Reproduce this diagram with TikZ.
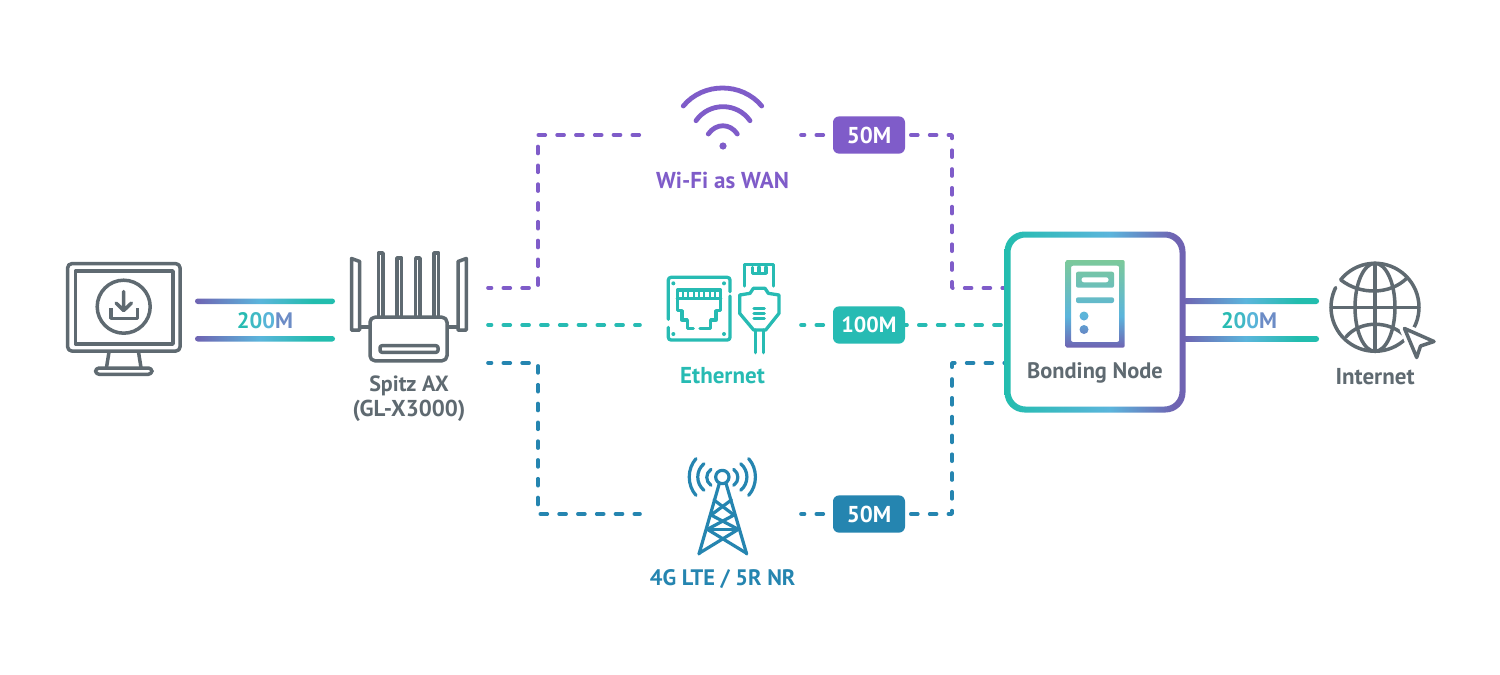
\documentclass[tikz,border=0pt]{standalone}
\usepackage{fontspec}
\setmainfont{PT Sans}
\definecolor{gry}{HTML}{5F6A71}
\definecolor{pur}{HTML}{7F5CC9}
\definecolor{tea}{HTML}{27BBB3}
\definecolor{blu}{HTML}{2585B0}
\definecolor{gP}{HTML}{6F63B2}
\definecolor{gB}{HTML}{5BB5DC}
\definecolor{gT}{HTML}{22BDAE}
\definecolor{gG}{HTML}{7CC99A}
\pgfdeclarehorizontalshading{wiregrad}{100bp}{color(0bp)=(gP);color(25bp)=(gP);color(48bp)=(gB);color(67bp)=(gT);color(75bp)=(gT);color(100bp)=(gT)}
\pgfdeclarehorizontalshading{ringgrad}{100bp}{color(0bp)=(gT);color(25bp)=(gT);color(54bp)=(gB);color(72bp)=(gP);color(75bp)=(gP);color(100bp)=(gP)}
\pgfdeclareverticalshading{srvgrad}{100bp}{color(0bp)=(gP);color(25bp)=(gP);color(43bp)=(gB);color(75bp)=(gG);color(100bp)=(gG)}
\tikzset{
 x=0.5pt,y=-0.5pt,
 lbl/.style={font=\bfseries\fontsize{11.5}{14}\selectfont,inner sep=0pt,align=center},
 badge/.style={minimum width=36pt,minimum height=18.6pt,inner sep=0pt,rounded corners=3pt,text=white,font=\bfseries\fontsize{11.5}{14}\selectfont},
 route/.style={line width=1.8pt,line cap=round,line join=round,dash pattern=on 3.5pt off 5.9pt,dash phase=1.75pt},
 ico/.style={gry,line width=1.75pt,line join=round,line cap=round},
 eth/.style={tea,line width=1.65pt,line join=round,line cap=round},
 twr/.style={blu,line width=1.6pt,line join=round,line cap=round},
}
\newcommand{\gradnum}{{\color[HTML]{28BBB2}2}{\color[HTML]{3FB9C4}0}{\color[HTML]{58B4D8}0}{\color[HTML]{6C8CC6}M}}
\begin{document}
\begin{tikzpicture}
\useasboundingbox (0,0) rectangle (1500,675);
\fill[white] (0,0) rectangle (1500,675);
% anchor coordinates
\coordinate (rP) at (488,288); \coordinate (rT) at (488,325); \coordinate (rB) at (488,363);
\coordinate (wifiL) at (640,135); \coordinate (wifiR) at (801,135);
\coordinate (ethL) at (640,325); \coordinate (ethR) at (801,325);
\coordinate (lteL) at (640,514); \coordinate (lteR) at (801,514);
\coordinate (nP) at (1005,288); \coordinate (nT) at (1005,325); \coordinate (nB) at (1005,363);
% routes, drawn beneath the badges
\path (869,135) coordinate (b1c) (869,325) coordinate (b2c) (869,514) coordinate (b3c);
\draw[route,pur] (rP) -- ++(50,0) |- (wifiL);
\draw[route,pur] (wifiR) -- (b1c);
\draw[route,pur,dash phase=6.5pt] (905,135) -- ++(47,0) |- (nP);
\draw[route,tea] (rT) -- (ethL);
\draw[route,tea] (ethR) -- (b2c);
\draw[route,tea,dash phase=2.5pt] (905,325) -- (nT);
\draw[route,blu] (rB) -- ++(50,0) |- (lteL);
\draw[route,blu] (lteR) -- (b3c);
\draw[route,blu,dash phase=6.5pt] (905,514) -- ++(47,0) |- (nB);
\node[badge,fill=pur] (b1) at (b1c) {50M};
\node[badge,fill=tea] (b2) at (b2c) {\fontsize{11}{14}\selectfont 100M};
\node[badge,fill=blu] (b3) at (b3c) {50M};
% left wires
\coordinate (lw1a) at (195,298.5); \coordinate (lw1b) at (335,304);
\coordinate (lw2a) at (195,336); \coordinate (lw2b) at (335,341.5);
\shade[shading=wiregrad,rounded corners=1.37pt] (lw1a) rectangle (lw1b);
\shade[shading=wiregrad,rounded corners=1.37pt] (lw2a) rectangle (lw2b);
\node[lbl] (sp1) at (265,320.5) {\fontsize{11.2}{14}\selectfont\gradnum};
% right wires
\coordinate (rw1a) at (1183,298.2); \coordinate (rw1b) at (1319,304);
\coordinate (rw2a) at (1183,336); \coordinate (rw2b) at (1319,341.8);
\shade[shading=wiregrad,rounded corners=1.37pt] (rw1a) rectangle (rw1b);
\shade[shading=wiregrad,rounded corners=1.37pt] (rw2a) rectangle (rw2b);
\node[lbl] (sp2) at (1249,320.5) {\fontsize{11.2}{14}\selectfont\gradnum};
% bonding node
\shade[shading=ringgrad,even odd rule]
  [rounded corners=10pt] (1004.5,231.5) rectangle (1185.5,412.5)
  [rounded corners=7.5pt] (1010.5,237.5) rectangle (1179.5,406.5);
\shade[shading=srvgrad,even odd rule,rounded corners=1pt]
  (1065.5,260) rectangle (1124.7,347.7)
  (1071,265.7) rectangle (1119.2,342)
  (1076,271.7) rectangle (1114,287.7)
  (1081.5,277.3) rectangle (1108.5,282.3)
  (1076,297.3) rectangle (1114,303)
  (1084,316) circle[radius=4.5]
  (1084,329.5) circle[radius=4.5];
\node[lbl,gry] (bn) at (1095,372.5) {\fontsize{11.2}{14}\selectfont Bonding Node};
% monitor
\begin{scope}[ico]
\draw[rounded corners=2pt] (67.7,263.7) rectangle (180,351);
\draw (75.5,271) rectangle (173,344);
\draw (123.7,306.7) circle[radius=26.5];
\draw (109,352) -- (106.5,367.5) (138.5,352) -- (141,367.5);
\draw[rounded corners=1.8pt] (95.5,368) rectangle (152,374.3);
\draw (123.7,291.5) -- (123.7,310) (116,303) -- (123.7,310.5) -- (131.5,303);
\draw[line cap=butt] (111,308.3) -- (111,318.3) -- (137.3,318.3) -- (137.3,308.3);
\end{scope}
% router
\begin{scope}[ico]
\draw (361,327) -- (369,327) (448,327) -- (457,327);
\draw (351.5,258.5) -- (359.7,261.5) -- (359.7,330) -- (351.5,330) -- cycle;
\draw (466.3,258.5) -- (458,261.5) -- (458,330) -- (466.3,330) -- cycle;
\draw (378.5,316) -- (378.5,253) -- (383,253) -- (383,316);
\draw (397,316) -- (397,258) -- (401.5,258) -- (401.5,316);
\draw (415.7,316) -- (415.7,258) -- (420,258) -- (420,316);
\draw (434,316) -- (434,253) -- (438.7,253) -- (438.7,316);
\node[draw=gry,line width=1.75pt,fill=white,rounded corners=2.5pt,minimum width=38.5pt,minimum height=21.8pt,inner sep=0pt] (router) at (408.5,339) {};
\draw[rounded corners=1pt] (380,345.7) rectangle (438,352.3);
\end{scope}
\node[lbl,gry] (rl1) at (409,386) {\fontsize{11}{12}\selectfont Spitz AX};
\node[lbl,gry] (rl2) at (409,411) {(GL-X3000)};
% wifi
\begin{scope}[pur,line width=2.4pt,line cap=round]
\draw (683.3,106) .. controls (703,82) and (742,82) .. (761.7,106);
\draw (696,120.7) .. controls (709,102) and (737,102) .. (750,120.7);
\draw (708.3,134) .. controls (716,123) and (730,123) .. (737.3,134);
\fill (723,146) circle[radius=3.6];
\end{scope}
\node[lbl,pur] (wl) at (722.5,180) {Wi-Fi as WAN};
% ethernet: zoom coordinates x=640+u/3, y=250+v/3
\begin{scope}[eth,shift={(640,250)},x=0.16667pt,y=-0.16667pt]
\draw (85,208) -- (85,90) arc[start angle=180,end angle=270,radius=8] -- (262,82) arc[start angle=270,end angle=360,radius=8] -- (270,125);
\draw (270,138) -- (270,262) arc[start angle=0,end angle=90,radius=8] -- (93,270) arc[start angle=90,end angle=180,radius=8] -- (85,232);
\fill (100,100) circle[radius=6] (252,100) circle[radius=6] (100,252) circle[radius=6] (252,252) circle[radius=6];
\draw (160,236) -- (142,236) -- (142,210) -- (126,210) -- (126,182) -- (112,182) -- (112,120) -- (242,120) -- (242,182) -- (228,182) -- (228,210) -- (212,210) -- (212,236) -- (180,236);
\draw (112,146) -- (242,146);
\foreach \u in {128,145,161,177,193,210,226} \draw[line width=1pt] (\u,124) -- (\u,142);
\draw (314,108) -- (314,44) -- (400,44) -- (400,108);
\draw (337,52) -- (337,70) -- (378,70) -- (378,52) (357,52) -- (357,70);
\draw (299,135) -- (330,130) -- (340,115) -- (375,115) -- (385,130) -- (417,135) -- (417,190) -- (377,240) -- (341,240) -- (299,190) -- cycle;
\draw (342,176) -- (373,176) (342,191) -- (373,191) (342,206) -- (373,206);
\draw (347,240) -- (347,308) (371,240) -- (371,308);
\end{scope}
\node[lbl,tea] (el) at (722.5,376) {Ethernet};
% tower: x=630+u/3, y=450+v/3
\begin{scope}[twr,shift={(630,450)},x=0.16667pt,y=-0.16667pt]
\draw (277,81) circle[radius=20];
\draw (268,100) -- (207,312) (288,100) -- (350,312);
\draw (252,150) -- (312,195) -- (232,238) -- (350,310);
\draw (304,150) -- (243,195) -- (325,238) -- (207,310);
\draw (232,238) -- (325,238);
\draw (243,58) .. controls (226,70) and (226,94) .. (243,106);
\draw (222,41) .. controls (197,62) and (197,100) .. (222,121);
\draw (198,26) .. controls (171,56) and (171,106) .. (198,136);
\draw (311,58) .. controls (328,70) and (328,94) .. (311,106);
\draw (332,41) .. controls (357,62) and (357,100) .. (332,121);
\draw (356,26) .. controls (383,56) and (383,106) .. (356,136);
\end{scope}
\node[lbl,blu] (ll) at (722.7,579) {\fontsize{11.2}{14}\selectfont 4G LTE / 5R NR};
% globe
\begin{scope}[ico]
\draw (1340.7,279.7) arc[start angle=218.8,end angle=566.6,radius=44];
\draw (1375,263.3) -- (1375,351.3) (1331,307.3) -- (1419,307.3);
\draw (1375,307.3) ellipse[x radius=20,y radius=44];
\draw (1341,280) .. controls (1360,295) and (1390,295) .. (1407,278);
\draw (1346,337) .. controls (1360,320) and (1390,320) .. (1406,337);
\draw[fill=white,draw=white,line width=5pt] (1404.5,328.5) -- (1434,341.5) -- (1420.5,346) -- (1416.7,357.5) -- cycle;
\draw[fill=white] (1404.5,328.5) -- (1434,341.5) -- (1420.5,346) -- (1416.7,357.5) -- cycle;
\end{scope}
\node[lbl,gry] (il) at (1375,376.5) {Internet};
\end{tikzpicture}
\end{document}
